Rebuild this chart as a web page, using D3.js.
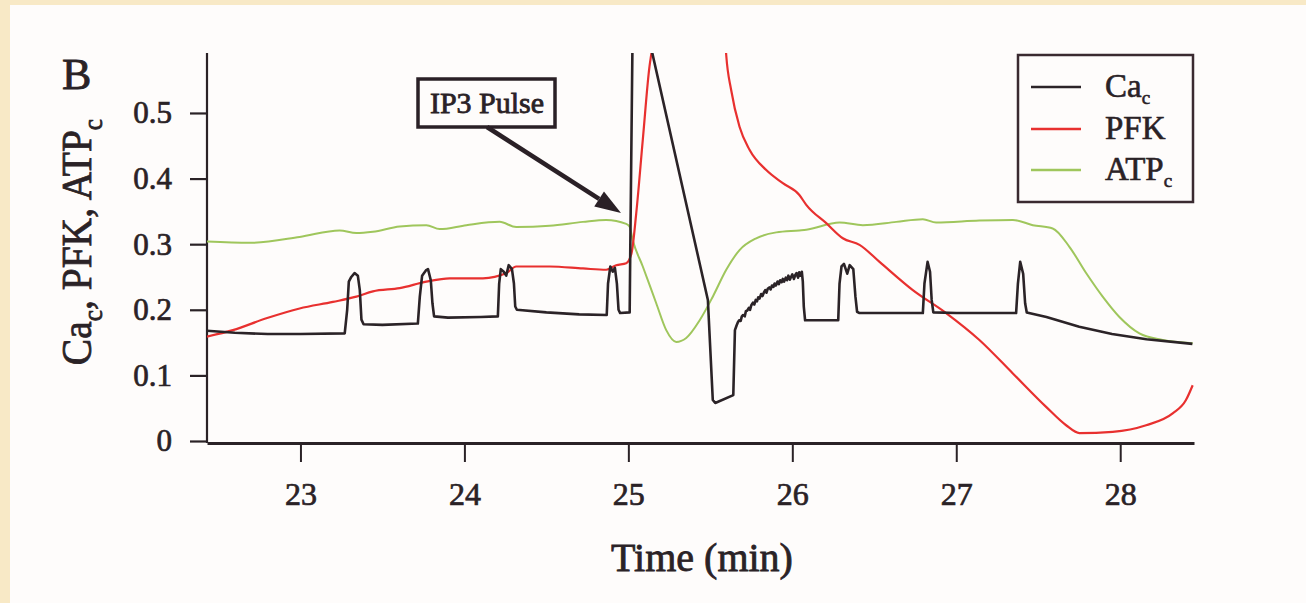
<!DOCTYPE html>
<html><head><meta charset="utf-8">
<script src="https://cdn.jsdelivr.net/npm/d3@7/dist/d3.min.js"></script>
<style>
html,body{margin:0;padding:0;background:#fefcfb;overflow:hidden;}
svg{display:block;}
</style></head>
<body>
<svg id="c" width="1306" height="603"></svg>
<script>
// ---- data ----
const xTicks = [23, 24, 25, 26, 27, 28];
const yTicks = [0, 0.1, 0.2, 0.3, 0.4, 0.5];
const yTickLabels = ["0", "0.1", "0.2", "0.3", "0.4", "0.5"];

const caT = [22.43,22.6,22.8,23.0,23.27,23.285,23.295,23.31,23.33,23.35,23.362,23.372,23.385,23.5,23.716,23.728,23.742,23.765,23.778,23.795,23.805,23.815,23.9,24.1,24.204,24.212,24.222,24.24,24.255,24.27,24.29,24.302,24.31,24.32,24.5,24.7,24.868,24.876,24.89,24.905,24.918,24.93,24.94,24.95,25.008,25.012,25.03,25.485,25.515,25.53,25.64,25.65,
25.66,25.668,25.676,25.685,25.692,25.70,25.71,25.717,25.726,25.735,25.742,25.75,25.76,25.768,25.777,25.785,25.792,25.80,25.81,25.818,25.826,25.835,25.842,25.85,25.86,25.868,25.876,25.885,25.892,25.90,25.91,25.918,25.926,25.935,25.942,25.95,25.96,25.968,25.976,25.985,25.992,26.00,26.01,26.018,26.026,26.035,26.042,26.05,26.058,26.064,26.07,26.078,
26.28,26.288,26.30,26.315,26.335,26.35,26.372,26.385,26.395,26.41,26.796,26.806,26.825,26.84,26.85,26.86,27.0,27.365,27.376,27.39,27.408,27.42,27.43,27.55,27.75,27.95,28.16,28.44];
const caV = [0.168,0.165,0.163,0.163,0.164,0.2,0.243,0.25,0.256,0.252,0.23,0.185,0.178,0.177,0.179,0.22,0.252,0.26,0.262,0.245,0.21,0.19,0.188,0.189,0.19,0.24,0.262,0.258,0.252,0.268,0.262,0.24,0.205,0.2,0.196,0.193,0.192,0.24,0.266,0.258,0.264,0.24,0.2,0.195,0.196,0.3,0.72,0.215,0.0625,0.058,0.07,0.169,
0.176,0.181,0.184,0.183,0.19,0.192,0.19,0.198,0.199,0.203,0.2,0.207,0.211,0.208,0.215,0.213,0.219,0.217,0.224,0.221,0.226,0.23,0.226,0.232,0.234,0.231,0.237,0.235,0.24,0.237,0.243,0.239,0.245,0.242,0.247,0.243,0.249,0.245,0.252,0.246,0.25,0.254,0.247,0.253,0.256,0.249,0.257,0.252,0.258,0.243,0.205,0.184,
0.184,0.24,0.266,0.27,0.255,0.268,0.262,0.22,0.197,0.195,0.195,0.24,0.273,0.258,0.215,0.196,0.195,0.195,0.24,0.273,0.255,0.21,0.196,0.189,0.174,0.163,0.155,0.148];

const pfkT = [22.426,22.588,22.792,22.995,23.198,23.341,23.442,23.605,23.768,23.91,24.113,24.256,24.316,24.52,24.723,24.865,24.926,24.987,25.019,25.048,25.088,25.129,25.14,25.35,25.58,25.597,25.627,25.678,25.739,25.841,25.942,26.043,26.085,26.207,26.308,26.41,26.532,26.735,26.938,27.141,27.345,27.548,27.67,27.751,27.954,28.158,28.32,28.4,28.442];
const pfkV = [0.159,0.169,0.187,0.202,0.212,0.22,0.228,0.233,0.243,0.248,0.248,0.256,0.266,0.266,0.263,0.261,0.268,0.271,0.286,0.347,0.459,0.571,0.59,1.0,0.66,0.588,0.535,0.479,0.444,0.413,0.393,0.375,0.36,0.332,0.309,0.299,0.273,0.23,0.195,0.154,0.103,0.052,0.024,0.012,0.014,0.024,0.042,0.062,0.085];

const atpT = [22.426,22.69,22.995,23.239,23.341,23.442,23.605,23.768,23.849,24.012,24.215,24.316,24.52,24.723,24.865,24.987,25.007,25.027,25.088,25.17,25.231,25.292,25.353,25.435,25.515,25.597,25.678,25.78,25.902,26.043,26.085,26.288,26.43,26.634,26.796,26.877,27.141,27.345,27.467,27.588,27.69,27.792,27.893,27.995,28.117,28.259,28.442];
const atpV = [0.304,0.302,0.311,0.321,0.317,0.319,0.327,0.329,0.323,0.329,0.334,0.326,0.328,0.334,0.337,0.331,0.327,0.306,0.266,0.21,0.169,0.151,0.157,0.184,0.22,0.261,0.291,0.309,0.318,0.321,0.322,0.333,0.329,0.334,0.338,0.333,0.336,0.337,0.329,0.324,0.296,0.256,0.22,0.189,0.164,0.154,0.149];

// ---- layout ----
const FONT = "'Liberation Serif', 'Times New Roman', Times, serif";
const svg = d3.select("#c");
const INK = "#2a2226";
const colors = {Ca: "#2b2327", PFK: "#e8302f", ATP: "#9fc65c"};

svg.append("rect").attr("x", 0).attr("y", 0).attr("width", 1306).attr("height", 603).attr("fill", "#fefcfb");
svg.append("rect").attr("x", 0).attr("y", 0).attr("width", 10).attr("height", 603).attr("fill", "#f8e9c6");
svg.append("rect").attr("x", 0).attr("y", 0).attr("width", 1306).attr("height", 5).attr("fill", "#f8e9c6");

const x = d3.scaleLinear().domain([22.43, 28.45]).range([207, 1194]);
const y = d3.scaleLinear().domain([0, 0.5914]).range([441, 53]);
const plotTop = 53, axisY = 443;

svg.append("defs").append("clipPath").attr("id", "clip")
  .append("rect").attr("x", x.range()[0]).attr("y", plotTop)
  .attr("width", x.range()[1] - x.range()[0]).attr("height", axisY - plotTop);

function styleText(sel, size, sw) {
  sel.style("font-family", FONT).attr("font-size", size).attr("fill", INK)
     .attr("stroke", INK).attr("stroke-width", sw);
}

// y axis
const yAxis = d3.axisLeft(y).tickValues(yTicks).tickFormat((d, i) => yTickLabels[i]).tickSize(17).tickSizeOuter(0).tickPadding(18);
const gy = svg.append("g").attr("transform", `translate(${x.range()[0]},0)`).call(yAxis);
gy.attr("font-family", null);
gy.select(".domain").attr("stroke", INK).attr("stroke-width", 2.2).attr("d", `M0,${plotTop}V${axisY}`);
gy.selectAll(".tick line").attr("stroke", INK).attr("stroke-width", 2.2);
styleText(gy.selectAll(".tick text"), 31, 0.7);

// x axis
const xAxis = d3.axisBottom(x).tickValues(xTicks).tickFormat(d3.format("d")).tickSize(19).tickSizeOuter(0).tickPadding(20);
const gx = svg.append("g").attr("transform", `translate(0,${axisY})`).call(xAxis);
gx.attr("font-family", null);
gx.select(".domain").attr("stroke", INK).attr("stroke-width", 3);
gx.selectAll(".tick line").attr("stroke", INK).attr("stroke-width", 2);
styleText(gx.selectAll(".tick text"), 32, 0.7);

// series
const zip = (T, V) => T.map((t, i) => [t, V[i]]);
const lines = svg.append("g").attr("clip-path", "url(#clip)");
const lineLin = d3.line().x(d => x(d[0])).y(d => y(d[1]));
const lineSm = d3.line().x(d => x(d[0])).y(d => y(d[1])).curve(d3.curveMonotoneX);
lines.append("path").datum(zip(atpT, atpV)).attr("d", lineSm).attr("fill", "none").attr("stroke", colors.ATP).attr("stroke-width", 2);
lines.append("path").datum(zip(pfkT, pfkV)).attr("d", lineSm).attr("fill", "none").attr("stroke", colors.PFK).attr("stroke-width", 2.2);
lines.append("path").datum(zip(caT, caV)).attr("d", lineLin).attr("fill", "none").attr("stroke", colors.Ca).attr("stroke-width", 2.6).attr("stroke-linejoin", "round");

// legend
const lg = svg.append("g");
lg.append("rect").attr("x", 1018).attr("y", 55).attr("width", 175).attr("height", 147).attr("fill", "#fefcfb").attr("stroke", "#3a2a30").attr("stroke-width", 2.5);
const legendItems = [
  {name: "Ca", sub: "c", color: colors.Ca, y: 87},
  {name: "PFK", sub: "", color: colors.PFK, y: 129},
  {name: "ATP", sub: "c", color: colors.ATP, y: 170}
];
legendItems.forEach(it => {
  lg.append("line").attr("x1", 1031).attr("x2", 1081).attr("y1", it.y).attr("y2", it.y).attr("stroke", it.color).attr("stroke-width", 2.5);
  const t = lg.append("text").attr("x", 1105).attr("y", it.y + 10);
  styleText(t, 33, 0.6);
  t.append("tspan").text(it.name);
  if (it.sub) t.append("tspan").attr("font-size", 19).attr("dy", 7).text(it.sub);
});

// IP3 annotation
const ann = svg.append("g");
ann.append("rect").attr("x", 418).attr("y", 79).attr("width", 137).attr("height", 48).attr("fill", "#fefcfb").attr("stroke", "#2a2026").attr("stroke-width", 3.5);
const ip = ann.append("text").attr("x", 487).attr("y", 113).attr("text-anchor", "middle").text("IP3 Pulse");
styleText(ip, 30, 0.8);
const ax0 = 487, ay0 = 127, ax1 = 621, ay1 = 213;
const ang = Math.atan2(ay1 - ay0, ax1 - ax0);
const hl = 26, hw = 9;
const bx = ax1 - hl * Math.cos(ang), by = ay1 - hl * Math.sin(ang);
ann.append("line").attr("x1", ax0).attr("y1", ay0).attr("x2", bx).attr("y2", by).attr("stroke", "#2a2026").attr("stroke-width", 4.5);
ann.append("path").attr("d", `M${ax1},${ay1}L${bx - hw * Math.sin(ang)},${by + hw * Math.cos(ang)}L${bx + hw * Math.sin(ang)},${by - hw * Math.cos(ang)}Z`).attr("fill", "#2a2026");

// titles
styleText(svg.append("text").attr("x", 62).attr("y", 89).text("B"), 44, 0.8);
styleText(svg.append("text").attr("x", 702).attr("y", 571).attr("text-anchor", "middle").text("Time (min)"), 40, 0.8);
const yl = svg.append("text").attr("transform", "translate(91,242) rotate(-90) scale(0.94,1)").attr("text-anchor", "middle");
styleText(yl, 42, 0.8);
yl.append("tspan").text("Ca");
yl.append("tspan").attr("font-size", 27).attr("dy", 11).text("c");
yl.append("tspan").attr("dy", -11).text(", PFK, ATP");
yl.append("tspan").attr("font-size", 27).attr("dy", 11).text("c");
</script>
</body></html>
